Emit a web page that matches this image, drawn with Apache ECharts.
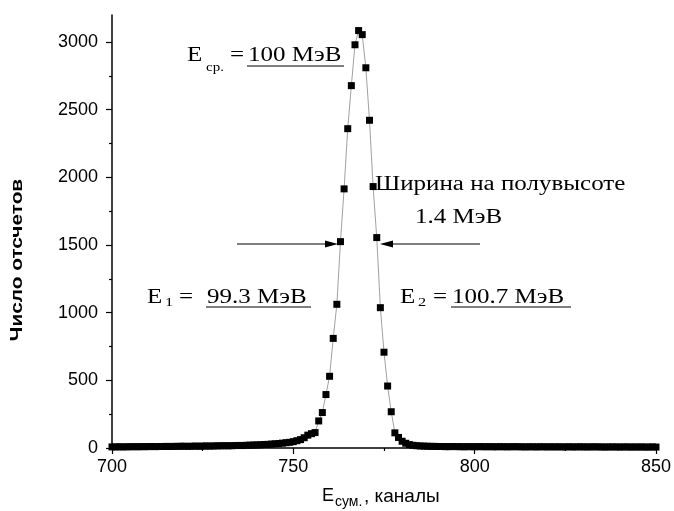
<!DOCTYPE html>
<html>
<head>
<meta charset="utf-8">
<script src="https://cdn.jsdelivr.net/npm/echarts@6/dist/echarts.min.js"></script>
<style>
  html, body { margin: 0; padding: 0; background: #fff; }
  #chart { width: 674px; height: 511px; }
</style>
</head>
<body>
<div id="chart"></div>
<script>
// channel numbers start at 700, one count per channel
const firstChannel = 700;
const counts = [
  8, 8, 9, 8, 9, 9, 10, 9, 10, 10,
  10, 11, 10, 11, 11, 12, 11, 12, 12, 13,
  13, 12, 13, 14, 13, 14, 15, 14, 15, 16,
  16, 17, 16, 17, 18, 19, 18, 20, 21, 22,
  23, 24, 26, 27, 29, 31, 33, 36, 39, 42,
  47, 54, 62, 76, 95, 106, 114, 200, 262, 395,
  530, 810, 1062, 1525, 1915, 2360, 2678, 2980, 3085, 3055,
  2810, 2422, 1932, 1555, 1037, 708, 458, 268, 112, 78,
  50, 35, 25, 20, 17, 15, 14, 13, 12, 12,
  11, 11, 10, 10, 11, 10, 10, 9, 10, 10,
  9, 10, 10, 9, 10, 9, 9, 10, 9, 9,
  9, 10, 9, 9, 8, 9, 9, 8, 9, 9,
  8, 9, 8, 9, 8, 8, 9, 8, 8, 9,
  8, 8, 8, 9, 8, 8, 7, 8, 8, 8,
  7, 8, 8, 7, 8, 7, 8, 7, 7, 8,
  7
];
const yMajorTicks = [0, 500, 1000, 1500, 2000, 2500, 3000];
const yMinorTicks = [250, 750, 1250, 1750, 2250, 2750];

const points = counts.map((c, i) => [firstChannel + i, c]);

const SERIF = '"Liberation Serif", "DejaVu Serif", serif';
const SANS = '"Liberation Sans", Arial, sans-serif';
const SX = 1.25;

// text is placed by its top edge
function txt(x, y, text, size, extra) {
  return Object.assign({
    type: 'text', x: x, y: y, scaleX: SX, z: 10,
    style: { text: text, font: size + 'px ' + SERIF, fill: '#000' }
  }, extra || {});
}
function uline(x1, x2, y) {
  return { type: 'line', z: 10, shape: { x1: x1, y1: y, x2: x2, y2: y }, style: { stroke: '#000', lineWidth: 1.2 } };
}
function arrow(x1, x2, y) {
  const dir = x2 > x1 ? 1 : -1;
  return [
    { type: 'line', z: 10, shape: { x1: x1, y1: y, x2: x2 - dir * 10, y2: y }, style: { stroke: '#000', lineWidth: 1 } },
    { type: 'polygon', z: 10, shape: { points: [[x2, y], [x2 - dir * 13, y - 3.5], [x2 - dir * 13, y + 3.5]] }, style: { fill: '#000' } }
  ];
}

const chart = echarts.init(document.getElementById('chart'), null, { renderer: 'canvas' });

chart.setOption({
  animation: false,
  backgroundColor: '#fff',
  grid: { left: 112, right: 18, top: 15, bottom: 63, containLabel: false },
  xAxis: {
    type: 'value', min: 700, max: 850, interval: 50,
    axisLine: { lineStyle: { color: '#000', width: 1.5 } },
    axisTick: { length: 6, lineStyle: { color: '#000', width: 1.2 } },
    minorTick: { show: true, splitNumber: 2, length: 3, lineStyle: { color: '#000', width: 1.2 } },
    axisLabel: { color: '#000', fontSize: 18, fontFamily: SANS, margin: 10 },
    splitLine: { show: false }
  },
  yAxis: [{
    type: 'value', min: 0, max: 3200,
    axisLine: { show: true, lineStyle: { color: '#000', width: 1.5 } },
    axisTick: { show: true, length: 6, customValues: yMajorTicks, lineStyle: { color: '#000', width: 1.2 } },
    axisLabel: { color: '#000', fontSize: 18, fontFamily: SANS, margin: 14, customValues: yMajorTicks, formatter: v => String(v) },
    splitLine: { show: false }
  }, {
    type: 'value', min: 0, max: 3200, position: 'left',
    axisLine: { show: false },
    axisTick: { show: true, length: 3, customValues: yMinorTicks, lineStyle: { color: '#000', width: 1.2 } },
    axisLabel: { show: false },
    splitLine: { show: false }
  }],
  series: [{
    type: 'line',
    data: points,
    symbol: 'rect',
    symbolSize: 7,
    showAllSymbol: true,
    itemStyle: { color: '#000' },
    lineStyle: { color: '#a0a0a0', width: 1 }
  }],
  graphic: [
    // E_ср. = 100 МэВ
    txt(187, 46, 'E', 20),
    txt(206, 62, 'ср.', 12),
    txt(230, 46, '=', 20),
    txt(248, 46, '100 МэВ', 20),
    uline(247, 344, 66),
    // Ширина на полувысоте / 1.4 МэВ
    txt(375, 175, 'Ширина на полувысоте', 20),
    txt(415, 208, '1.4 МэВ', 20),
    ...arrow(237, 338, 244),
    ...arrow(480, 380, 244),
    // E1 = 99.3 МэВ
    txt(147, 288, 'E', 20),
    txt(165, 296, '1', 13),
    txt(179, 288, '=', 20),
    txt(207, 288, '99.3 МэВ', 20),
    uline(206, 311, 307),
    // E2 = 100.7 МэВ
    txt(400, 288, 'E', 20),
    txt(418, 296, '2', 13),
    txt(433, 288, '=', 20),
    txt(452, 288, '100.7 МэВ', 20),
    uline(451, 571, 307),
    // axis titles
    {
      type: 'text', x: 18, y: 260, rotation: Math.PI / 2, scaleX: 1.3, z: 10,
      style: { text: 'Число отсчетов', font: 'bold 16px ' + SANS, fill: '#000', align: 'center', verticalAlign: 'middle' }
    },
    { type: 'text', x: 322, y: 487, z: 10, style: { text: 'E', font: '18px ' + SANS, fill: '#000' } },
    { type: 'text', x: 335, y: 495, z: 10, style: { text: 'сум.', font: '14px ' + SANS, fill: '#000' } },
    { type: 'text', x: 364, y: 487, z: 10, style: { text: ', каналы', font: '19px ' + SANS, fill: '#000' } }
  ]
});
</script>
</body>
</html>
